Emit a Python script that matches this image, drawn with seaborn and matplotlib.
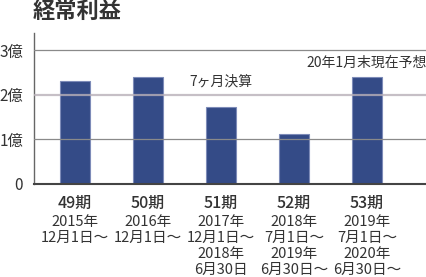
import matplotlib
matplotlib.use("Agg")
import matplotlib.pyplot as plt
import matplotlib.transforms as mtransforms
import seaborn as sns
import pandas as pd

# ---- data ----
periods = ["49期", "50期", "51期", "52期", "53期"]
values = [2.30, 2.39, 1.72, 1.11, 2.39]  # 億円
period_ranges = [
    "2015年\n12月1日〜",
    "2016年\n12月1日〜",
    "2017年\n12月1日〜\n2018年\n6月30日",
    "2018年\n7月1日〜\n2019年\n6月30日〜",
    "2019年\n7月1日〜\n2020年\n6月30日〜",
]
ytick_values = [0, 1, 2, 3]
ytick_labels = ["0", "1億", "2億", "3億"]
title = "経常利益"
notes = {2: ("7ヶ月決算", 2.30), 4: ("20年1月末現在予想", 2.72)}

sns.set_theme(style="white")
FAM = ["Noto Sans CJK JP", "DejaVu Sans"]
plt.rcParams["font.family"] = FAM

df = pd.DataFrame({"period": periods, "value": values})

fig = plt.figure(figsize=(4.27, 2.77), dpi=100)
ax = fig.add_axes([0.0796, 0.337, 0.9204, 0.544])

sns.barplot(data=df, x="period", y="value", ax=ax, color="#344b87",
            width=0.41, edgecolor="#7d8bb8", linewidth=0.8, saturation=1, zorder=2)

ax.set_xlim(-0.56, 4.82)
ax.set_ylim(0, 3.39)

# gridlines drawn over bars
for yv in ytick_values[1:]:
    if yv == 2:
        ax.axhline(yv, color="#b8b0b8", lw=1.6, alpha=0.8, zorder=3)
    else:
        ax.axhline(yv, color="#8a8a8a", lw=0.9, zorder=3)

ax.set_yticks(ytick_values)
ax.set_yticklabels(ytick_labels, fontsize=11, color="#333333")
ax.tick_params(axis="y", length=0, pad=8)
ax.tick_params(axis="x", length=0, pad=8)
ax.set_xticks(range(len(periods)))
ax.set_xticklabels(periods, fontsize=11.5, color="#333333", fontweight="medium")
ax.set_xlabel("")
ax.set_ylabel("")

for s in ["top", "right"]:
    ax.spines[s].set_visible(False)
ax.spines["left"].set_color("#666666")
ax.spines["left"].set_linewidth(1.0)
ax.spines["bottom"].set_color("#444444")
ax.spines["bottom"].set_linewidth(1.5)
ax.spines["bottom"].set_zorder(4)

trans = mtransforms.blended_transform_factory(ax.transData, ax.transAxes)
for i, txt in enumerate(period_ranges):
    ax.text(i, -0.21, txt, transform=trans, ha="center", va="top",
            fontsize=10.5, color="#333333", linespacing=1.16)

for i, (txt, yv) in notes.items():
    ax.text(i, yv, txt, ha="center", va="center", fontsize=10, color="#333333")

fig.text(33 / 427, 1 - 11 / 277, title, fontsize=16, fontweight="bold",
         color="#333333", ha="left", va="center")

fig.savefig("out.png", dpi=100)
